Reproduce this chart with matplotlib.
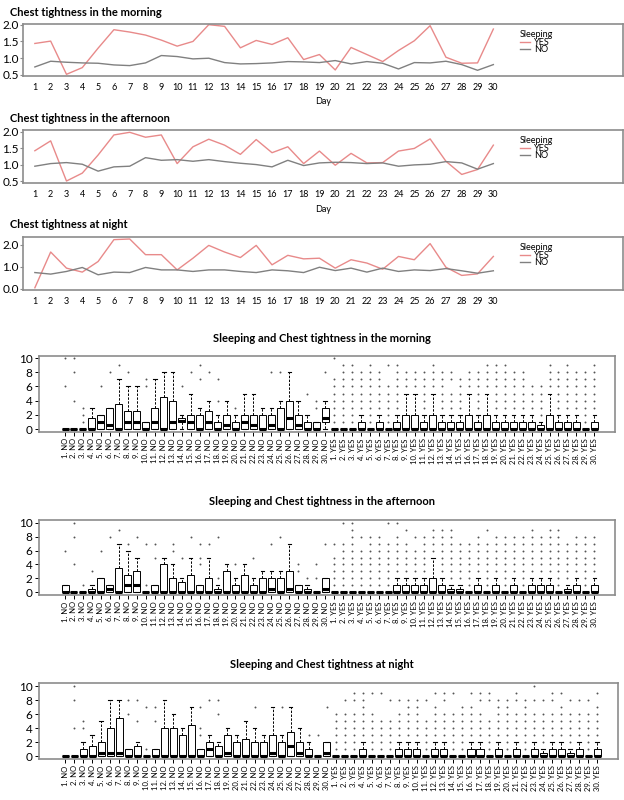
import numpy as np
import matplotlib.pyplot as plt

plt.rcParams['font.family'] = ['Lato', 'DejaVu Sans']

W, H = 624, 800
RED = '#e88a8a'
GREY = '#808080'
FRAME = '#8c8c8c'

days = list(range(1, 31))

# mean chest tightness per day, by sleeping group
morning_yes = [1.44, 1.51, 0.52, 0.72, 1.30, 1.85, 1.78, 1.69, 1.54, 1.36,
               1.50, 2.00, 1.95, 1.31, 1.53, 1.41, 1.61, 0.96, 1.11, 0.65,
               1.32, 1.11, 0.90, 1.23, 1.52, 1.97, 1.03, 0.85, 0.86, 1.87]
morning_no = [0.74, 0.91, 0.88, 0.86, 0.85, 0.80, 0.78, 0.86, 1.08, 1.05,
              0.98, 1.00, 0.87, 0.83, 0.84, 0.86, 0.90, 0.89, 0.87, 0.93,
              0.83, 0.90, 0.85, 0.68, 0.87, 0.86, 0.91, 0.81, 0.64, 0.81]
afternoon_yes = [1.42, 1.72, 0.50, 0.74, 1.29, 1.90, 1.98, 1.83, 1.90, 1.03,
                 1.54, 1.77, 1.59, 1.31, 1.76, 1.36, 1.54, 1.03, 1.41, 0.98,
                 1.34, 1.05, 1.06, 1.41, 1.49, 1.78, 1.10, 0.70, 0.85, 1.59]
afternoon_no = [0.95, 1.03, 1.06, 1.01, 0.80, 0.93, 0.95, 1.21, 1.13, 1.15,
                1.10, 1.15, 1.09, 1.04, 1.00, 0.93, 1.13, 0.97, 1.05, 1.07,
                1.06, 1.03, 1.05, 0.95, 0.99, 1.01, 1.09, 1.05, 0.86, 1.03]
night_yes = [0.05, 1.67, 0.94, 0.76, 1.24, 2.23, 2.26, 1.55, 1.55, 0.86,
             1.39, 1.97, 1.67, 1.42, 1.97, 1.09, 1.52, 1.36, 1.39, 0.94,
             1.32, 1.17, 0.89, 1.47, 1.32, 2.05, 0.98, 0.61, 0.68, 1.47]
night_no = [0.74, 0.67, 0.79, 0.97, 0.64, 0.76, 0.74, 0.97, 0.86, 0.86,
            0.79, 0.86, 0.86, 0.79, 0.74, 0.86, 0.82, 0.74, 0.98, 0.83,
            0.94, 0.76, 0.94, 0.79, 0.86, 0.83, 0.92, 0.82, 0.71, 0.82]

# boxplot summaries (NO groups 1..30 then YES groups 1..30)
box_labels = [f'{d}. NO' for d in days] + [f'{d}. YES' for d in days]

m_q1 = [0, 0, 0, 0, 0, 0, 0, 0, 0, 0, 0, 0, 0, 1, 0, 0, 0, 0, 0, 0,
        0, 0, 0, 0, 0, 0, 0, 0, 0, 1] + [0] * 30
m_med = [0, 0, 0, 0, 1, 0.5, 0, 1, 1, 0, 1, 0, 1, 1.2, 1, 0, 1, 0, 0.5, 0,
         1, 0.5, 0, 0.5, 0, 1.5, 0.5, 0, 0, 1.5] + [0] * 30
m_q3 = [0, 0, 0, 1.5, 2, 3, 3.5, 2.5, 2.5, 1, 3, 4.5, 4, 1.5, 2, 2, 2.5, 1, 2, 1,
        2, 2, 2, 2, 3, 4, 2, 1, 1, 3,
        0, 0, 0, 1, 0, 1, 0, 1, 2, 2, 1, 2, 1, 1, 1, 2, 1, 2, 1, 1,
        1, 1, 1, 0.5, 2, 1, 1, 1, 0, 1]
m_whi = [0, 0, 0, 3, 2, 3, 7, 6, 6, 1, 7, 8, 8, 2, 5, 3, 4, 2, 4, 2,
         5, 5, 3, 3, 4, 8, 4, 2, 1, 4,
         0, 0, 0, 2, 0, 2, 0, 2, 5, 5, 2, 5, 2, 2, 2, 5, 2, 5, 2, 2,
         2, 2, 2, 1, 5, 2, 2, 2, 0, 2]
m_fliers = [[6, 10], [4, 8, 10], [1, 2, 3], [], [6], [8], [9], [8], [], [6, 7],
            [], [], [], [6], [8], [7, 9], [8], [4, 7], [], [3],
            [], [], [], [8], [8], [], [], [5], [3, 4], [8],
            [1, 2, 3, 4, 5, 6, 7, 10], [1, 2, 3, 4, 5, 6, 7, 8, 9], [1, 2, 3, 4, 5, 6, 7, 8, 9],
            [3, 4, 5, 6, 7, 8], [1, 2, 3, 4, 5, 6, 7, 8, 9], [3, 4, 5, 6, 7, 8],
            [1, 2, 3, 4, 5, 6, 9], [3, 4, 5, 6, 7, 8, 9], [6, 7, 8], [6, 7, 8],
            [3, 4, 5, 6, 7, 8], [6, 7, 8, 9], [3, 4, 5, 6, 7, 8], [3, 4, 5, 7, 8],
            [3, 4, 5, 6, 7], [6, 7, 8], [3, 4, 5, 6, 7, 8], [6, 7, 8, 9],
            [3, 4, 5, 6, 7, 8, 9], [3, 4, 5, 6, 7, 8, 9], [3, 4, 5, 6, 7, 8],
            [3, 4, 5, 6, 7, 8], [3, 4, 5, 6], [2, 3, 4, 5, 6], [6, 7, 8, 9],
            [3, 4, 5, 6, 7, 8], [3, 4, 5, 6, 7, 8, 9], [3, 4, 5, 6, 7, 8],
            [1, 2, 3, 4, 5, 6, 7, 8], [3, 4, 5, 6, 7, 8, 9]]

a_q1 = [0] * 60
a_med = [0, 0, 0, 0, 0, 0.5, 0, 1, 1, 0, 0, 0, 0, 0, 0, 0, 0, 0, 0, 0,
         0, 0, 0, 0.5, 0, 0.5, 0, 0, 0, 0.5] + [0] * 30
a_q3 = [1, 0, 0, 0.5, 2, 1, 3.5, 2.5, 3, 0, 1, 4, 2, 1.5, 2.5, 1, 2, 0.5, 3, 1,
        2.5, 1, 2, 2, 2, 3, 1, 0.5, 0, 2,
        0, 0, 0, 0, 0, 0, 0, 1, 1, 1, 1, 2, 1, 0.5, 0.5, 0, 1, 0, 1, 0,
        1, 0, 1, 1, 1, 0, 0.5, 1, 0, 1]
a_whi = [1, 0, 0, 1, 2, 1, 7, 6, 5, 0, 1, 5, 4, 2, 5, 1, 5, 1, 4, 2,
         4, 2, 3, 3, 3, 7, 1, 1, 0, 2,
         0, 0, 0, 0, 0, 0, 0, 2, 2, 2, 2, 5, 2, 1, 1, 0, 2, 0, 2, 0,
         2, 0, 2, 2, 2, 0, 1, 2, 0, 2]
a_fliers = [[6], [4, 8, 10], [1], [3], [6], [8], [9], [7], [8], [1, 7],
            [5, 7], [], [6, 7], [5], [8], [4, 5, 7], [7], [2, 8], [], [4],
            [], [5], [], [7], [8], [], [3, 4], [2], [2, 4], [7],
            [1, 2, 3, 4, 5, 7], [1, 2, 3, 4, 5, 6, 7, 10], [1, 2, 3, 4, 5, 6, 7, 8, 9, 10],
            [1, 2, 3, 4, 5, 6, 8], [1, 2, 3, 4, 5, 6, 7, 8], [1, 2, 3, 4, 5, 6, 7, 8],
            [1, 2, 3, 4, 5, 6, 7, 10], [3, 4, 5, 6, 7, 8, 10], [3, 4, 5, 6, 7, 9],
            [3, 4, 5, 6, 8], [3, 4, 5, 6, 7, 8], [6, 7, 8, 9], [3, 4, 5, 6, 7, 8, 9],
            [2, 3, 4, 5, 6, 7, 8, 9], [2, 3, 4, 5, 6, 7], [1, 2, 3, 4, 5, 6, 7],
            [3, 4, 5, 6, 7, 8], [1, 2, 3, 4, 5, 6, 7, 9], [3, 4, 5, 6, 7, 8],
            [1, 2, 3, 4, 5, 6, 7, 8], [3, 4, 5, 6, 7, 8], [1, 2, 3, 4, 5, 6, 7, 8],
            [3, 4, 5, 6, 7, 8, 9], [3, 4, 5, 6, 7, 8], [3, 4, 5, 6, 7, 8, 9],
            [1, 2, 3, 4, 5, 6, 7, 8, 9], [2, 3, 4, 5, 6, 7], [3, 4, 5, 6, 7, 8],
            [1, 2, 3, 4, 5, 6, 7, 8], [3, 4, 5, 6, 7, 8]]

n_q1 = [0] * 60
n_med = [0, 0, 0, 0, 0.5, 0.5, 0.5, 0, 0, 0, 0, 0, 0, 0, 0, 0, 1, 0, 0.5, 0,
         0, 0, 0, 0.5, 0, 1.5, 0.5, 0, 0, 0.5] + [0] * 30
n_q3 = [0, 0, 1, 1.5, 2, 4, 5.5, 1, 1.5, 0, 1, 4, 4, 3, 4.5, 1, 2, 1.5, 3, 2,
        2.5, 2, 2, 3, 2, 3.5, 2, 1, 0, 2,
        0, 0, 0, 1, 0, 0, 0, 1, 1, 1, 0, 1, 1, 0, 0, 1, 1, 0, 1, 0,
        1, 0, 1, 0.5, 1, 1, 0.5, 1, 0, 1]
n_whi = [0, 0, 2, 3, 5, 8, 8, 1, 2, 0, 1, 8, 6, 4, 7, 1, 3, 2, 4, 3,
         5, 4, 3, 7, 3, 7, 4, 2, 0, 2,
         0, 0, 0, 2, 0, 0, 0, 2, 2, 2, 0, 2, 2, 0, 0, 2, 2, 0, 2, 0,
         2, 0, 2, 1, 2, 2, 1, 2, 0, 2]
n_fliers = [[], [4, 8, 10], [4, 5], [], [], [], [], [6, 8], [5, 8], [1, 7],
            [5, 7], [], [], [], [], [3, 4, 7], [8], [6, 8], [], [],
            [], [7], [], [], [7], [], [], [3], [3], [7],
            [1, 2, 3, 4, 5, 6], [1, 2, 3, 4, 5, 6, 8], [1, 2, 3, 4, 5, 6, 8, 9],
            [3, 4, 5, 6, 7, 8, 9], [1, 2, 3, 4, 5, 6, 9], [1, 2, 3, 4, 5, 9],
            [1, 2, 3, 4, 5, 8], [3, 4, 5, 6, 8], [3, 4, 5, 6, 7, 8],
            [3, 4, 5, 6, 7, 8], [1, 2, 3, 4, 5, 8], [3, 4, 5, 6, 7, 9],
            [3, 4, 5, 6, 8, 9], [1, 2, 3, 4, 5, 6, 9], [1, 2, 3, 4, 5, 6, 7],
            [3, 4, 5, 6, 7, 9], [3, 4, 5, 6, 8, 9], [1, 2, 3, 4, 5, 8, 9],
            [3, 4, 5, 6, 7, 8], [1, 2, 3, 4, 5, 6, 7, 8], [3, 4, 5, 6, 8, 9],
            [1, 2, 3, 4, 5, 6, 7, 8], [3, 4, 5, 6, 8, 10], [2, 3, 4, 5, 6, 8],
            [3, 4, 5, 6, 8, 9], [3, 4, 5, 6, 7, 9], [2, 3, 4, 5, 6, 8],
            [3, 4, 5, 6, 8], [1, 2, 3, 4, 5, 6, 8], [3, 4, 5, 6, 7, 9]]


fig = plt.figure(figsize=(W / 100, H / 100), dpi=100)


def add_px(l, t, r, b):
    return fig.add_axes([l / W, 1 - b / H, (r - l) / W, (b - t) / H])


def line_panel(top, bottom, title, yes, no, ylim, yticks, show_day):
    fig.text(10 / W, 1 - (top - 12) / H, title, fontsize=8, fontweight='bold',
             ha='left', va='center')
    ax = add_px(23, top, 623, bottom)
    ax.plot(days, yes, color=RED, lw=1, label='YES')
    ax.plot(days, no, color=GREY, lw=1, label='NO')
    ax.set_xlim(0.25, 38.2)
    ax.set_ylim(*ylim)
    ax.set_xticks(days)
    ax.set_xticklabels([str(d) for d in days], fontsize=6.5)
    ax.set_yticks(yticks)
    ax.set_yticklabels([f'{v:.1f}' for v in yticks], fontsize=8.5)
    ax.tick_params(axis='x', length=0, pad=5)
    ax.tick_params(axis='y', length=2, pad=1, color=FRAME)
    for s in ax.spines.values():
        s.set_color(FRAME)
        s.set_linewidth(1.2)
    if show_day:
        ax.set_xlabel('Day', fontsize=6.5, labelpad=4)
    ax.legend(title='Sleeping', loc='upper left', bbox_to_anchor=(0.82, 0.97),
              frameon=False, fontsize=6.5, title_fontsize=6.5, handlelength=1.2,
              handletextpad=0.4, labelspacing=-0.15, borderpad=0, alignment='left')
    return ax


line_panel(24, 76, 'Chest tightness in the morning', morning_yes, morning_no,
           (0.47, 2.02), [0.5, 1.0, 1.5, 2.0], True)
line_panel(130, 183, 'Chest tightness in the afternoon', afternoon_yes, afternoon_no,
           (0.44, 2.05), [0.5, 1.0, 1.5, 2.0], True)
line_panel(237, 290, 'Chest tightness at night', night_yes, night_no,
           (-0.05, 2.35), [0.0, 1.0, 2.0], False)


def box_panel(top, bottom, right, title, q1, med, q3, whi, fliers, ylim):
    fig.text(322 / W, 1 - (top - 18) / H, title, fontsize=8, fontweight='bold',
             ha='center', va='center')
    ax = add_px(39, top, right, bottom)
    stats = []
    for i in range(60):
        stats.append(dict(med=med[i], q1=q1[i], q3=q3[i], whislo=0, whishi=whi[i],
                          fliers=fliers[i]))
    pos = np.arange(1, 61)
    ax.bxp(stats, positions=pos, widths=0.78, capwidths=0.4, patch_artist=True,
           boxprops=dict(facecolor='white', edgecolor='black', lw=0.7),
           whiskerprops=dict(color='black', lw=0.7, linestyle=(0, (2.5, 1.5))),
           capprops=dict(color='black', lw=0.8),
           medianprops=dict(color='black', lw=2.2, solid_capstyle='butt'),
           flierprops=dict(marker='o', markersize=1.4, markerfacecolor='#555555',
                           markeredgecolor='none'))
    ax.set_xlim(-1.9, 62.3)
    ax.set_ylim(*ylim)
    ax.set_xticks(pos)
    ax.set_xticklabels(box_labels, rotation=90, fontsize=5.5)
    ax.set_yticks([0, 2, 4, 6, 8, 10])
    ax.set_yticklabels(['0', '2', '4', '6', '8', '10'], fontsize=8.5)
    ax.tick_params(axis='both', length=3, width=0.7, pad=1.5)
    for s in ax.spines.values():
        s.set_color(FRAME)
        s.set_linewidth(1.2)
    return ax


box_panel(356, 432, 615, 'Sleeping and Chest tightness in the morning',
          m_q1, m_med, m_q3, m_whi, m_fliers, (-0.42, 10.3))
box_panel(520, 595, 615, 'Sleeping and Chest tightness in the afternoon',
          a_q1, a_med, a_q3, a_whi, a_fliers, (-0.4, 10.4))
box_panel(683, 759, 618, 'Sleeping and Chest tightness at night',
          n_q1, n_med, n_q3, n_whi, n_fliers, (-0.4, 10.5))

fig.savefig('out.png', dpi=100)
